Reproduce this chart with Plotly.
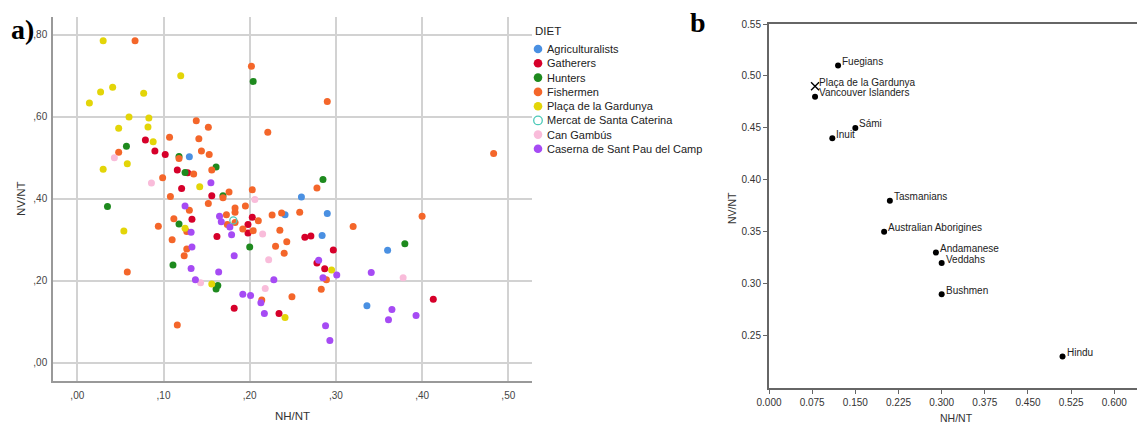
import plotly.graph_objects as go

# ---------------- Panel a data ----------------
groups = ["Agriculturalists", "Gatherers", "Hunters", "Fishermen",
          "Plaça de la Gardunya", "Mercat de Santa Caterina", "Can Gambús",
          "Caserna de Sant Pau del Camp"]

agri_x = [0.130, 0.260, 0.290, 0.241, 0.284, 0.360, 0.336]
agri_y = [0.502, 0.404, 0.364, 0.361, 0.310, 0.274, 0.139]

gath_x = [0.079, 0.090, 0.102, 0.116, 0.128, 0.121, 0.156, 0.133, 0.162, 0.203,
          0.198, 0.198, 0.264, 0.271, 0.297, 0.278, 0.287, 0.413, 0.182, 0.234]
gath_y = [0.543, 0.516, 0.508, 0.470, 0.463, 0.425, 0.407, 0.350, 0.308, 0.355,
          0.337, 0.316, 0.306, 0.309, 0.275, 0.243, 0.229, 0.155, 0.133, 0.120]

hunt_x = [0.057, 0.118, 0.125, 0.161, 0.169, 0.204, 0.285, 0.035, 0.118, 0.200,
          0.380, 0.111, 0.163, 0.161]
hunt_y = [0.528, 0.503, 0.464, 0.477, 0.407, 0.686, 0.447, 0.381, 0.338, 0.282,
          0.290, 0.238, 0.188, 0.180]

fish_x = [0.067, 0.202, 0.138, 0.152, 0.221, 0.107, 0.141, 0.290, 0.048, 0.118,
          0.144, 0.153, 0.156, 0.135, 0.099, 0.176, 0.169, 0.108, 0.203, 0.483,
          0.278, 0.258, 0.400, 0.320, 0.289, 0.283, 0.249, 0.130, 0.152, 0.173,
          0.183, 0.183, 0.195, 0.183, 0.174, 0.210, 0.192, 0.204, 0.226, 0.237,
          0.235, 0.243, 0.230, 0.240, 0.127, 0.112, 0.094, 0.110, 0.127, 0.124,
          0.058, 0.214, 0.116]
fish_y = [0.785, 0.723, 0.590, 0.574, 0.562, 0.550, 0.546, 0.637, 0.513, 0.498,
          0.516, 0.508, 0.470, 0.460, 0.451, 0.416, 0.402, 0.405, 0.422, 0.510,
          0.426, 0.367, 0.357, 0.332, 0.202, 0.179, 0.161, 0.372, 0.388, 0.361,
          0.377, 0.367, 0.382, 0.342, 0.337, 0.346, 0.326, 0.322, 0.360, 0.365,
          0.323, 0.295, 0.284, 0.267, 0.320, 0.351, 0.333, 0.300, 0.277, 0.261,
          0.221, 0.153, 0.092]

placa_x = [0.030, 0.120, 0.041, 0.027, 0.077, 0.014, 0.060, 0.083, 0.048, 0.082,
           0.088, 0.030, 0.058, 0.142, 0.125, 0.054, 0.156, 0.241, 0.295]
placa_y = [0.785, 0.700, 0.672, 0.660, 0.657, 0.633, 0.599, 0.597, 0.572, 0.575,
           0.539, 0.472, 0.485, 0.429, 0.328, 0.321, 0.192, 0.110, 0.226]

merc_x = [0.181]
merc_y = [0.347]

cang_x = [0.043, 0.086, 0.206, 0.215, 0.222, 0.143, 0.218, 0.378]
cang_y = [0.500, 0.438, 0.398, 0.314, 0.251, 0.195, 0.181, 0.207]

case_x = [0.155, 0.125, 0.165, 0.167, 0.177, 0.179, 0.132, 0.133, 0.182, 0.132,
          0.164, 0.137, 0.228, 0.192, 0.201, 0.213, 0.217, 0.280, 0.341, 0.301,
          0.285, 0.365, 0.361, 0.393, 0.288, 0.293]
case_y = [0.439, 0.382, 0.357, 0.344, 0.331, 0.312, 0.318, 0.282, 0.261, 0.230,
          0.221, 0.202, 0.202, 0.167, 0.164, 0.146, 0.120, 0.250, 0.220, 0.214,
          0.207, 0.130, 0.105, 0.115, 0.090, 0.054]

group_x = [agri_x, gath_x, hunt_x, fish_x, placa_x, merc_x, cang_x, case_x]
group_y = [agri_y, gath_y, hunt_y, fish_y, placa_y, merc_y, cang_y, case_y]
group_colors = ["#4A90E2", "#D6002A", "#1E8A1E", "#F4662A",
                "#E3D508", "#4CC9B8", "#F9BCDA", "#A64BF4"]
group_open = [False, False, False, False, False, True, False, False]

a_xticks = [0.0, 0.1, 0.2, 0.3, 0.4, 0.5]
a_xticklabels = [",00", ",10", ",20", ",30", ",40", ",50"]
a_yticks = [0.0, 0.2, 0.4, 0.6, 0.8]
a_yticklabels = [",00", ",20", ",40", ",60", ",80"]

# ---------------- Panel b data ----------------
b_names = ["Fuegians", "Vancouver Islanders", "Sámi", "Inuit", "Tasmanians",
           "Australian Aborigines", "Andamanese", "Veddahs", "Bushmen", "Hindu"]
b_x = [0.12, 0.08, 0.15, 0.11, 0.21, 0.20, 0.29, 0.30, 0.30, 0.51]
b_y = [0.51, 0.48, 0.45, 0.44, 0.38, 0.35, 0.33, 0.32, 0.29, 0.23]
b_cross_name = ["Plaça de la Gardunya"]
b_cross_x = [0.08]
b_cross_y = [0.49]
b_xticks = [0.0, 0.075, 0.15, 0.225, 0.3, 0.375, 0.45, 0.525, 0.6]
b_yticks = [0.25, 0.30, 0.35, 0.40, 0.45, 0.50, 0.55]

W, H = 1137, 427
fig = go.Figure()

for name, xs, ys, col, op in zip(groups, group_x, group_y, group_colors, group_open):
    if op:
        marker = dict(symbol="circle-open", size=7, color=col, line=dict(width=1.3, color=col))
    else:
        marker = dict(symbol="circle", size=7, color=col, line=dict(width=0))
    fig.add_trace(go.Scatter(x=xs, y=ys, mode="markers", name=name, marker=marker,
                             xaxis="x", yaxis="y", showlegend=False))

fig.add_trace(go.Scatter(x=b_x, y=b_y, mode="markers", name="populations",
                         marker=dict(symbol="circle", size=6, color="black"),
                         xaxis="x2", yaxis="y2", showlegend=False))
fig.add_trace(go.Scatter(x=b_cross_x, y=b_cross_y, mode="markers", name=b_cross_name[0],
                         marker=dict(symbol="x-thin-open", size=8, color="black",
                                     line=dict(width=1.4, color="black")),
                         xaxis="x2", yaxis="y2", showlegend=False))

annotations = []
for n, x, y in zip(b_names + b_cross_name, b_x + b_cross_x, b_y + b_cross_y):
    annotations.append(dict(x=x, y=y, xref="x2", yref="y2", text=n, showarrow=False,
                            xanchor="left", yanchor="middle", xshift=2, yshift=4,
                            font=dict(family="Liberation Sans", size=10, color="#222")))

# custom legend for panel a
leg_x = 538 / W
annotations.append(dict(x=533 / W, y=1 - 31 / H, xref="paper", yref="paper", text="DIET",
                        showarrow=False, xanchor="left", yanchor="middle",
                        font=dict(family="Liberation Sans", size=11.5, color="#222")))
shapes = []
row_y = [49, 63.3, 77.6, 91.9, 106.2, 120.4, 134.6, 148.8]
for name, col, op, ry in zip(groups, group_colors, group_open, row_y):
    yy = 1 - ry / H
    shapes.append(dict(type="circle", xref="paper", yref="paper",
                       xsizemode="pixel", ysizemode="pixel",
                       xanchor=leg_x, yanchor=yy, x0=-4.3, x1=4.3, y0=-4.3, y1=4.3,
                       fillcolor="white" if op else col,
                       line=dict(color=col, width=1.3 if op else 0)))
    annotations.append(dict(x=545 / W, y=yy, xref="paper", yref="paper", text=name,
                            showarrow=False, xanchor="left", yanchor="middle",
                            font=dict(family="Liberation Sans", size=11, color="#222")))

# axis titles (placed in pixels)
def title_ann(text, px, py, size, angle=0):
    return dict(x=px / W, y=1 - py / H, xref="paper", yref="paper", text=text,
                showarrow=False, xanchor="center", yanchor="middle", textangle=angle,
                font=dict(family="Liberation Sans", size=size, color="#333"))

annotations.append(title_ann("NH/NT", 292.5, 416, 11.5))
annotations.append(title_ann("NV/NT", 21, 199, 11.5, -90))
annotations.append(title_ann("NH/NT", 956, 418, 10.5))
annotations.append(title_ann("NV/NT", 732, 208, 10.5, -90))

# panel labels
annotations.append(dict(x=9 / W, y=1 - 30 / H, xref="paper", yref="paper", text="<b>a)</b>",
                        showarrow=False, xanchor="left", yanchor="middle",
                        font=dict(family="Liberation Serif", size=28, color="black")))
annotations.append(dict(x=688 / W, y=1 - 23 / H, xref="paper", yref="paper", text="<b>b</b>",
                        showarrow=False, xanchor="left", yanchor="middle",
                        font=dict(family="Liberation Serif", size=28, color="black")))

tickfont_a = dict(family="Liberation Sans", size=10, color="#444")
tickfont_b = dict(family="Liberation Sans", size=10, color="#333")

fig.update_layout(
    width=W, height=H, margin=dict(l=0, r=0, t=0, b=0, autoexpand=False),
    paper_bgcolor="white", plot_bgcolor="white",
    xaxis=dict(domain=[53 / W, 532 / W], range=[-0.0282, 0.5275], automargin=False,
               tickvals=a_xticks, ticktext=a_xticklabels, tickfont=tickfont_a,
               showgrid=True, gridcolor="#d2d2d2", gridwidth=1.6, zeroline=False,
               showline=True, linecolor="#999", linewidth=1.5, ticks="", ticklabelstandoff=4,
               anchor="y"),
    yaxis=dict(domain=[1 - 381 / H, 1 - 17 / H], range=[-0.0446, 0.843], automargin=False,
               tickvals=a_yticks, ticktext=a_yticklabels, tickfont=tickfont_a,
               showgrid=True, gridcolor="#d2d2d2", gridwidth=1.6, zeroline=False,
               showline=True, linecolor="#999", linewidth=1.5, ticks="", ticklabelstandoff=2,
               anchor="x"),
    xaxis2=dict(domain=[769 / W, 1.0], range=[0, 0.6394], automargin=False,
                tickvals=b_xticks, ticktext=["%.3f" % v for v in b_xticks], tickfont=tickfont_b,
                showgrid=False, zeroline=False, showline=True, mirror=True,
                linecolor="#666", linewidth=2, ticks="outside", ticklen=4, tickcolor="#666",
                anchor="y2"),
    yaxis2=dict(domain=[1 - 387.7 / H, 1 - 24 / H], range=[0.20, 0.55], automargin=False,
                tickvals=b_yticks, ticktext=["%.2f" % v for v in b_yticks], tickfont=tickfont_b,
                showgrid=False, zeroline=False, showline=True,
                linecolor="#666", linewidth=2, ticks="outside", ticklen=4, tickcolor="#666",
                anchor="x2"),
    annotations=annotations, shapes=shapes,
)

fig.write_html("out.html", config={"displayModeBar": False},
               post_script="document.body.style.margin='0';document.body.style.overflow='hidden';")
